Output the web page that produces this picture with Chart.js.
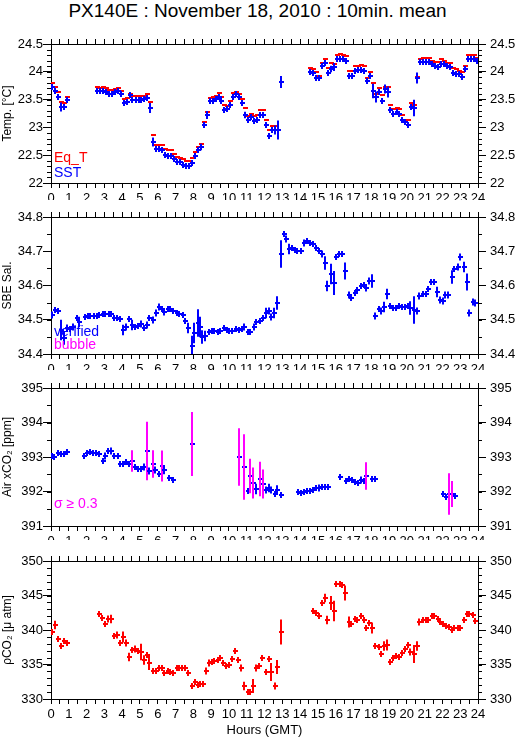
<!DOCTYPE html>
<html>
<head>
<meta charset="utf-8">
<script src="https://cdn.jsdelivr.net/npm/chart.js@4.4.0/dist/chart.umd.min.js"></script>
<style>
body { margin: 0; background: #fff; width: 515px; height: 739px; position: relative; overflow: hidden; font-family: "Liberation Sans", Arial, sans-serif; }
#titulo { position: absolute; left: 0; top: 0; width: 515px; text-align: center; font-size: 19px; line-height: 22px; color: #000; }
canvas { position: absolute; left: 0; }
</style>
</head>
<body>
<div id="titulo">PX140E : November 18, 2010 : 10min. mean</div>
<canvas id="panel1" width="515" height="170" style="top:30px"></canvas>
<canvas id="panel2" width="515" height="170" style="top:200px"></canvas>
<canvas id="panel3" width="515" height="170" style="top:370px"></canvas>
<canvas id="panel4" width="515" height="199" style="top:540px"></canvas>
<script>
// Panel 1: temperaturas (SST y Eq_T)
const horasT = [0.08,0.25,0.42,0.58,0.75,0.92,
  2.58,2.75,2.92,3.08,3.25,3.42,3.58,3.75,3.92,
  4.08,4.25,4.42,4.58,4.75,4.92,5.08,5.25,5.42,5.58,5.75,5.92,
  6.08,6.25,6.42,6.58,6.75,6.92,7.08,7.25,7.42,7.58,7.75,7.92,
  8.08,8.25,8.42,8.58,8.75,8.92,9.08,9.25,9.42,9.58,9.75,9.92,
  10.08,10.25,10.42,10.58,10.75,10.92,11.08,11.25,11.42,11.58,11.75,11.92,
  12.08,12.25,12.42,12.58,12.75,12.92,
  14.58,14.75,14.92,15.08,15.25,15.42,15.58,15.75,15.92,
  16.08,16.25,16.42,16.58,16.75,16.92,17.08,17.25,17.42,17.58,17.75,17.92,
  18.08,18.25,18.42,18.58,18.75,18.92,19.08,19.25,19.42,19.58,19.75,19.92,
  20.08,20.25,20.42,20.58,20.75,20.92,21.08,21.25,21.42,21.58,21.75,21.92,
  22.08,22.25,22.42,22.58,22.75,22.92,23.08,23.25,23.42,23.58,23.75,23.92];
const sst = [23.73,23.66,23.55,23.36,23.37,23.49,
  23.66,23.66,23.66,23.63,23.60,23.60,23.63,23.66,23.60,
  23.43,23.46,23.58,23.49,23.49,23.50,23.49,23.51,23.52,23.34,22.73,22.61,
  22.61,22.59,22.50,22.49,22.48,22.44,22.38,22.37,22.33,22.30,22.31,22.36,
  22.48,22.59,22.65,23.04,23.23,23.48,23.48,23.51,23.55,23.48,23.31,23.33,
  23.40,23.55,23.60,23.55,23.43,23.23,23.13,23.19,23.12,23.14,23.23,23.23,
  23.04,22.85,22.95,22.95,22.95,23.81,
  23.99,23.98,23.89,23.89,24.10,24.16,23.98,24.05,24.08,
  24.23,24.23,24.23,24.19,23.93,23.93,24.02,24.04,24.04,24.02,23.83,23.93,
  23.66,23.55,23.63,23.48,23.69,23.63,23.31,23.24,23.28,23.25,23.13,23.10,
  23.04,23.37,23.35,23.89,24.17,24.17,24.17,24.17,24.14,24.10,24.08,24.14,
  24.14,24.10,24.08,23.98,23.96,23.96,23.90,24.05,24.23,24.23,24.23,24.19];
const sstErr = [0.02,0.03,0.03,0.08,0.03,0.02,
  0.015,0.015,0.015,0.015,0.015,0.015,0.015,0.015,0.015,
  0.02,0.015,0.02,0.02,0.015,0.03,0.015,0.02,0.015,0.09,0.08,0.015,
  0.015,0.015,0.02,0.02,0.02,0.015,0.015,0.015,0.015,0.02,0.015,0.03,
  0.02,0.02,0.06,0.04,0.07,0.015,0.015,0.015,0.015,0.02,0.02,0.015,
  0.05,0.015,0.015,0.015,0.02,0.06,0.03,0.015,0.03,0.03,0.015,0.015,
  0.05,0.015,0.04,0.08,0.17,0.11,
  0.015,0.015,0.04,0.03,0.03,0.04,0.03,0.06,0.07,
  0.015,0.015,0.015,0.04,0.03,0.02,0.015,0.015,0.015,0.04,0.03,0.015,
  0.13,0.1,0.015,0.03,0.08,0.1,0.03,0.02,0.03,0.04,0.04,0.02,
  0.03,0.04,0.15,0.1,0.015,0.015,0.015,0.015,0.015,0.015,0.015,0.015,
  0.015,0.015,0.015,0.015,0.015,0.015,0.015,0.05,0.015,0.03,0.04,0.03];
const eqT = [23.80,23.73,23.63,23.45,23.43,23.55,
  23.72,23.70,23.72,23.70,23.67,23.67,23.69,23.70,23.66,
  23.51,23.52,23.60,23.57,23.57,23.57,23.57,23.57,23.60,23.46,22.86,22.68,
  22.69,22.68,22.61,22.59,22.59,22.53,22.46,22.45,22.43,22.39,22.39,22.45,
  22.55,22.65,22.71,23.10,23.27,23.52,23.54,23.57,23.61,23.55,23.40,23.39,
  23.48,23.61,23.64,23.60,23.51,23.34,23.20,23.25,23.20,23.22,23.31,23.31,
  23.14,22.95,23.02,23.02,22.95,23.81,
  24.07,24.05,23.99,23.93,24.16,24.23,24.07,24.16,24.14,
  24.31,24.32,24.30,24.29,24.01,24.01,24.11,24.11,24.12,24.11,23.89,23.99,
  23.80,23.60,23.71,23.58,23.72,23.73,23.41,23.33,23.34,23.33,23.22,23.14,
  23.13,23.43,23.40,23.90,24.23,24.25,24.25,24.25,24.20,24.17,24.17,24.23,
  24.20,24.16,24.16,24.07,24.05,24.02,23.99,24.11,24.31,24.31,24.31,24.25];

// Panel 2: salinidad SBE
const horasSal = [0.04,0.24,0.41,0.56,0.71,0.9,1.08,1.22,1.44,1.6,
  1.9,2.06,2.2,2.4,2.57,2.72,2.9,3.05,3.24,3.39,
  3.56,3.71,3.88,4.03,4.21,4.4,4.55,4.72,4.87,5.06,
  5.2,5.37,5.52,5.71,5.9,6.05,6.24,6.37,6.55,6.7,
  6.87,7.06,7.2,7.4,7.55,7.72,7.9,8.05,8.24,8.37,
  8.48,8.67,8.86,9.03,9.18,9.36,9.51,9.7,9.87,10.02,
  10.2,10.39,10.54,10.71,10.86,11.05,11.2,11.39,11.55,11.76,
  11.91,12.06,12.23,12.38,12.53,12.72,12.9,13.07,13.22,13.37,
  13.54,13.7,13.85,14.03,14.22,14.39,14.54,14.72,14.87,15.06,
  15.23,15.38,15.53,15.72,15.89,16.04,16.19,16.37,16.54,16.73,
  16.88,17.06,17.21,17.4,17.57,17.72,17.87,18.04,18.23,18.41,
  18.56,18.74,18.9,19.07,19.22,19.4,19.55,19.72,19.87,20.05,
  20.2,20.39,20.56,20.7,20.9,21.05,21.2,21.37,21.55,21.7,
  21.87,22.02,22.17,22.33,22.52,22.67,22.86,23.0,23.2,23.36,
  23.5,23.7,23.84];
const sal = [34.514,34.529,34.526,34.470,34.446,34.476,34.473,34.480,34.505,34.494,
  34.507,34.510,34.510,34.511,34.511,34.514,34.517,34.517,34.517,34.517,
  34.505,34.505,34.503,34.470,34.478,34.502,34.485,34.480,34.482,34.488,
  34.475,34.485,34.505,34.500,34.519,34.536,34.530,34.522,34.530,34.530,
  34.526,34.519,34.517,34.514,34.497,34.476,34.422,34.461,34.490,34.478,
  34.451,34.453,34.464,34.468,34.466,34.464,34.466,34.477,34.469,34.466,
  34.468,34.474,34.471,34.474,34.480,34.464,34.464,34.480,34.492,34.495,
  34.505,34.519,34.526,34.509,34.521,34.548,34.693,34.750,34.737,34.706,
  34.710,34.705,34.701,34.701,34.725,34.729,34.725,34.722,34.710,34.701,
  34.691,34.667,34.598,34.633,34.606,34.684,34.691,34.691,34.642,34.572,
  34.563,34.577,34.587,34.598,34.601,34.594,34.614,34.613,34.511,34.532,
  34.527,34.537,34.575,34.541,34.534,34.534,34.541,34.536,34.538,34.541,
  34.534,34.529,34.527,34.570,34.574,34.575,34.589,34.609,34.609,34.580,
  34.558,34.556,34.572,34.572,34.626,34.648,34.655,34.682,34.655,34.611,
  34.519,34.553,34.550];
const salErr = [0.01,0,0,0.03,0.02,0.01,0,0.01,0,0.015,
  0,0,0,0,0,0,0,0,0,0,
  0,0,0,0.015,0.01,0,0.015,0,0,0.01,
  0,0.01,0,0.01,0.01,0.01,0,0.01,0,0,
  0,0,0,0,0,0.015,0.03,0.03,0.04,0.03,
  0.02,0.015,0,0,0,0,0,0,0,0,
  0,0,0,0,0.01,0,0,0.01,0,0,
  0,0.015,0.01,0.01,0.015,0.02,0.04,0,0.01,0.015,
  0,0,0,0,0.01,0,0,0,0,0,
  0.01,0.02,0.015,0.03,0.035,0,0,0,0.025,0.01,
  0,0,0,0,0,0.01,0.01,0.02,0.01,0,
  0.01,0.015,0.015,0,0,0,0,0,0,0,
  0.02,0.04,0.01,0.01,0,0,0,0,0,0.015,
  0.01,0.01,0.01,0.01,0.02,0,0.01,0.01,0.015,0.025,
  0.01,0.01,0.01];

// Panel 3: xCO2 del aire
const horasAir = [0.04,0.19,0.37,0.56,0.71,0.9,1.87,2.02,2.19,2.34,
  2.53,2.72,2.9,3.05,3.22,3.4,3.56,3.75,3.88,4.03,
  4.21,4.4,4.55,4.72,4.87,5.06,5.2,5.37,5.52,5.71,
  5.86,6.05,6.22,6.37,6.65,6.84,7.9,10.54,10.86,11.05,
  11.2,11.37,11.54,11.72,11.91,12.06,12.23,12.38,12.57,12.72,
  12.9,13.88,14.03,14.22,14.39,14.54,14.72,14.91,15.06,15.25,
  15.42,15.57,16.22,16.56,16.75,16.92,17.06,17.25,17.4,17.57,
  17.72,18.04,18.23,22.06,22.21,22.36,22.52,22.7];
const xco2Air = [393.04,393.01,393.11,393.09,393.08,393.14,393.04,393.11,393.14,393.13,
  393.11,393.08,392.87,393.03,393.18,393.18,393.04,393.04,392.80,392.79,
  392.85,392.79,392.89,392.72,392.66,392.66,392.70,393.18,392.60,392.79,
  392.61,392.50,392.75,392.63,392.40,392.34,393.37,393.01,392.70,392.02,
  392.45,392.24,392.08,392.36,392.22,392.03,392.09,392.04,391.93,392.03,
  391.90,391.98,391.95,392.00,392.02,392.02,392.05,392.11,392.09,392.14,
  392.14,392.12,392.41,392.31,392.37,392.32,392.27,392.24,392.32,392.31,
  392.46,392.37,392.37,391.93,391.85,391.92,391.92,391.88];
const xco2Err = [0.02,0.02,0.02,0.02,0.02,0.02,0.05,0.03,0.02,0.02,
  0.02,0.05,0.05,0.1,0.08,0.1,0.05,0.05,0.02,0.05,
  0.05,0.05,0.31,0.05,0.05,0.05,0.1,0.85,0.1,0.4,
  0.1,0.05,0.45,0.12,0.05,0.03,0.93,0.83,0.95,0.06,
  0.5,0.45,0.15,0.5,0.42,0.1,0.12,0.1,0.03,0.14,
  0.03,0.04,0.03,0.03,0.03,0.02,0.02,0.05,0.1,0.05,
  0.03,0.02,0.07,0.03,0.05,0.05,0.03,0.03,0.1,0.03,
  0.4,0.03,0.02,0.08,0.03,0.6,0.38,0.08];

// Panel 4: pCO2
const horasP = [0.04,0.22,0.37,0.56,0.71,0.9,2.68,2.87,3.03,3.22,
  3.37,3.56,3.71,3.88,4.03,4.21,4.4,4.55,4.72,4.87,
  5.06,5.2,5.37,5.52,5.71,5.9,6.05,6.24,6.37,6.55,
  6.7,6.87,7.06,7.2,7.34,7.55,7.72,7.9,8.09,8.24,
  8.39,8.56,8.71,8.86,9.03,9.18,9.36,9.51,9.67,9.83,
  10.0,10.17,10.34,10.51,10.68,10.86,11.05,11.2,11.37,11.54,
  11.69,11.87,12.06,12.23,12.38,12.57,12.72,12.9,14.72,14.91,
  15.06,15.25,15.38,15.53,15.72,15.89,16.04,16.22,16.37,16.54,
  16.73,16.88,17.06,17.21,17.4,17.57,17.72,17.87,18.04,18.23,
  18.41,18.56,18.74,18.9,19.07,19.22,19.4,19.55,19.72,19.87,
  20.05,20.2,20.39,20.56,20.7,20.9,21.05,21.2,21.4,21.55,
  21.74,21.89,22.06,22.21,22.36,22.52,22.67,22.86,23.0,23.2,
  23.36,23.5,23.7,23.84];
const pco2 = [339.64,340.70,338.67,337.66,338.39,338.05,342.29,341.76,340.80,341.57,
  341.57,339.10,339.25,338.14,339.00,338.14,336.12,337.08,337.18,336.94,
  336.84,335.64,336.36,335.25,334.10,334.05,334.53,334.53,333.71,334.05,
  333.86,333.81,334.43,334.53,334.53,334.43,333.81,331.93,332.50,332.02,
  332.17,332.17,334.05,335.25,335.30,335.49,335.64,335.88,335.20,334.80,
  334.90,335.80,336.90,335.70,334.50,331.90,331.06,331.06,331.90,334.53,
  334.77,335.88,333.95,335.74,333.95,331.93,334.58,339.64,342.72,342.48,
  342.05,343.98,344.65,341.42,343.93,342.77,346.72,346.72,346.48,345.37,
  341.18,340.94,341.57,341.42,342.00,341.42,340.22,341.04,340.22,337.71,
  337.47,336.46,337.66,337.81,335.30,335.88,336.27,336.02,336.60,337.18,
  337.81,336.84,336.51,337.66,341.18,341.42,341.42,341.42,342.00,342.00,
  341.66,341.18,340.80,340.60,340.46,339.98,340.22,340.36,340.36,341.42,
  342.29,342.39,342.20,341.30];
const pco2Err = [0.4,0.6,0.4,0.4,0.4,0.3,0.3,0.3,0.3,0.5,
  0.6,0.4,0.5,0.4,0.8,0.5,0.6,0.4,0.5,0.4,
  1.2,0.7,0.4,1.0,0.3,0.3,0.3,0.3,0.3,0.3,
  0.3,0.3,0.3,0.3,0.3,0.3,0.4,0.3,0.4,0.3,
  0.4,0.4,0.5,0.5,0.4,0.3,0.3,0.3,0.4,0.4,
  0.4,0.4,0.4,0.3,0.5,0.6,0.3,0.3,1.0,0.5,
  0.4,0.3,0.4,0.4,1.3,0.5,1.0,1.8,0.3,0.3,
  0.3,0.4,0.6,0.6,1.0,1.5,0.3,0.3,0.3,1.1,
  0.8,0.3,0.3,0.3,0.3,0.3,0.4,0.4,0.8,0.3,
  0.3,0.4,0.7,0.8,0.4,0.3,0.4,0.4,0.4,0.3,
  0.4,0.5,1.3,0.7,0.5,0.3,0.3,0.3,0.3,0.3,
  0.3,0.3,0.3,0.3,0.3,0.3,0.3,0.3,0.3,0.4,
  0.3,0.3,0.3,0.4];

const AZUL = '#0000ff';
const ROJO = '#ff0000';
const MAGENTA = '#ff00ff';
const FUENTE = '"Liberation Sans", Arial, sans-serif';

function puntos(horas, valores, errores) {
    return horas.map((h, i) => ({ x: h, y: valores[i], e: errores ? errores[i] : 0 }));
}

// dibuja cada medida como una cruz: barra horizontal y barra vertical de error
const cruces = {
    id: 'cruces',
    afterDatasetsDraw(chart) {
        const { ctx, chartArea: a } = chart;
        const xs = chart.scales.x;
        const ys = chart.scales.y;
        ctx.save();
        ctx.beginPath();
        ctx.rect(a.left, a.top, a.right - a.left, a.bottom - a.top);
        ctx.clip();
        ctx.lineWidth = 2;
        chart.data.datasets.forEach(ds => {
            ds.data.forEach(p => {
                const px = Math.round(xs.getPixelForValue(p.x));
                const dx = Math.round(xs.getPixelForValue(p.x + 0.14) - xs.getPixelForValue(p.x));
                const py = Math.round(ys.getPixelForValue(p.y));
                ctx.strokeStyle = ds.borderColor;
                ctx.beginPath();
                ctx.moveTo(px - dx, py);
                ctx.lineTo(px + dx + 1, py);
                ctx.stroke();
                if (ds.barras) {
                    const dy = Math.max(3, Math.abs(ys.getPixelForValue(p.y + p.e) - ys.getPixelForValue(p.y)));
                    ctx.strokeStyle = (ds.limite && p.e >= ds.limite) ? MAGENTA : ds.borderColor;
                    ctx.beginPath();
                    ctx.moveTo(px, py - dy);
                    ctx.lineTo(px, py + dy);
                    ctx.stroke();
                }
            });
        });
        ctx.restore();
    }
};

// textos de leyenda dentro del area
const notas = {
    id: 'notas',
    afterDraw(chart, args, opts) {
        const { ctx, chartArea: a } = chart;
        ctx.save();
        ctx.font = '14px ' + FUENTE;
        ctx.textBaseline = 'middle';
        (opts.items || []).forEach(n => {
            ctx.fillStyle = n.color;
            ctx.fillText(n.text, a.left + 3, a.top + n.dy);
        });
        ctx.restore();
    }
};

// marcas menores en los ejes verticales
const menores = {
    id: 'menores',
    afterDraw(chart, args, opts) {
        const ctx = chart.ctx;
        ctx.save();
        ctx.strokeStyle = '#000';
        ctx.lineWidth = 1;
        ['y', 'y2'].forEach(id => {
            const s = chart.scales[id];
            const izq = s.position === 'left';
            const x0 = izq ? chart.chartArea.left : chart.chartArea.right;
            const n = Math.round((s.max - s.min) / opts.paso);
            for (let k = 0; k <= n; k++) {
                const py = Math.round(s.getPixelForValue(s.min + k * opts.paso)) + 0.5;
                ctx.beginPath();
                ctx.moveTo(x0, py);
                ctx.lineTo(x0 + (izq ? -4 : 4), py);
                ctx.stroke();
            }
        });
        ctx.restore();
    }
};

function ejeX(pos, alto, conEtiquetas, titulo) {
    return {
        type: 'linear', position: pos, min: 0, max: 24,
        grid: { drawOnChartArea: false, drawTicks: true, tickLength: 5, tickColor: '#000', tickWidth: 1 },
        border: { display: true, color: '#000', width: 1 },
        ticks: {
            display: conEtiquetas, stepSize: 0.5, autoSkip: false, maxRotation: 0, minRotation: 0,
            maxTicksLimit: 100, padding: 3, color: '#000', font: { family: FUENTE, size: 13 },
            callback: v => Number.isInteger(v) ? String(v) : ''
        },
        title: titulo ? { display: true, text: titulo, color: '#000', font: { family: FUENTE, size: 13 }, padding: { top: 0, bottom: 1 } } : { display: false },
        afterFit: s => { s.height = alto; }
    };
}

function ejeY(pos, cfg) {
    const izq = pos === 'left';
    return {
        type: 'linear', position: pos, min: cfg.min, max: cfg.max,
        grid: { drawOnChartArea: false, drawTicks: true, tickLength: 8, tickColor: '#000', tickWidth: 1 },
        border: { display: true, color: '#000', width: 1 },
        ticks: {
            stepSize: cfg.mayor, autoSkip: false, maxTicksLimit: 100,
            padding: izq ? 0 : 4, color: '#000', font: { family: FUENTE, size: 13 },
            callback: v => String(Math.round(v * 100) / 100)
        },
        title: izq ? { display: true, text: cfg.tituloY, color: '#000', font: { family: FUENTE, size: 12 }, padding: { top: 0, bottom: 1 } } : { display: false },
        afterFit: s => { s.width = izq ? 51 : 37; }
    };
}

function crearPanel(id, cfg) {
    return new Chart(document.getElementById(id), {
        type: 'scatter',
        data: { datasets: cfg.datasets },
        options: {
            responsive: false,
            animation: false,
            events: [],
            layout: { padding: 0 },
            elements: { point: { radius: 0 } },
            plugins: {
                legend: { display: false },
                tooltip: { enabled: false },
                notas: { items: cfg.notas },
                menores: { paso: cfg.menor }
            },
            scales: {
                x: ejeX('bottom', cfg.abajo, true, cfg.tituloX),
                x2: ejeX('top', cfg.arriba, false),
                y: ejeY('left', cfg),
                y2: ejeY('right', cfg)
            }
        },
        plugins: [cruces, notas, menores]
    });
}

crearPanel('panel1', {
    min: 22, max: 24.5, mayor: 0.5, menor: 0.1, tituloY: 'Temp. [°C]', arriba: 14, abajo: 17,
    datasets: [
        { label: 'Eq_T', data: puntos(horasT, eqT), borderColor: ROJO, barras: false },
        { label: 'SST', data: puntos(horasT, sst, sstErr), borderColor: AZUL, barras: true }
    ],
    notas: [{ text: 'Eq_T', color: ROJO, dy: 114 }, { text: 'SST', color: AZUL, dy: 129 }]
});

crearPanel('panel2', {
    min: 34.4, max: 34.8, mayor: 0.1, menor: 0.05, tituloY: 'SBE Sal.', arriba: 17, abajo: 16,
    datasets: [
        { label: 'verified', data: puntos(horasSal, sal, salErr), borderColor: AZUL, barras: true }
    ],
    notas: [{ text: 'verified', color: AZUL, dy: 115 }, { text: 'bubble', color: MAGENTA, dy: 128 }]
});

crearPanel('panel3', {
    min: 391, max: 395, mayor: 1, menor: 0.5, tituloY: 'Air xCO₂ [ppm]', arriba: 18, abajo: 14,
    datasets: [
        { label: 'Air xCO2', data: puntos(horasAir, xco2Air, xco2Err), borderColor: AZUL, barras: true, limite: 0.3 }
    ],
    notas: [{ text: 'σ ≥ 0.3', color: MAGENTA, dy: 116 }]
});

crearPanel('panel4', {
    min: 330, max: 350, mayor: 5, menor: 1, tituloY: 'ρCO₂ [μ atm]', arriba: 21, abajo: 40, tituloX: 'Hours (GMT)',
    datasets: [
        { label: 'pCO2', data: puntos(horasP, pco2, pco2Err), borderColor: ROJO, barras: true }
    ],
    notas: []
});
</script>
</body>
</html>
